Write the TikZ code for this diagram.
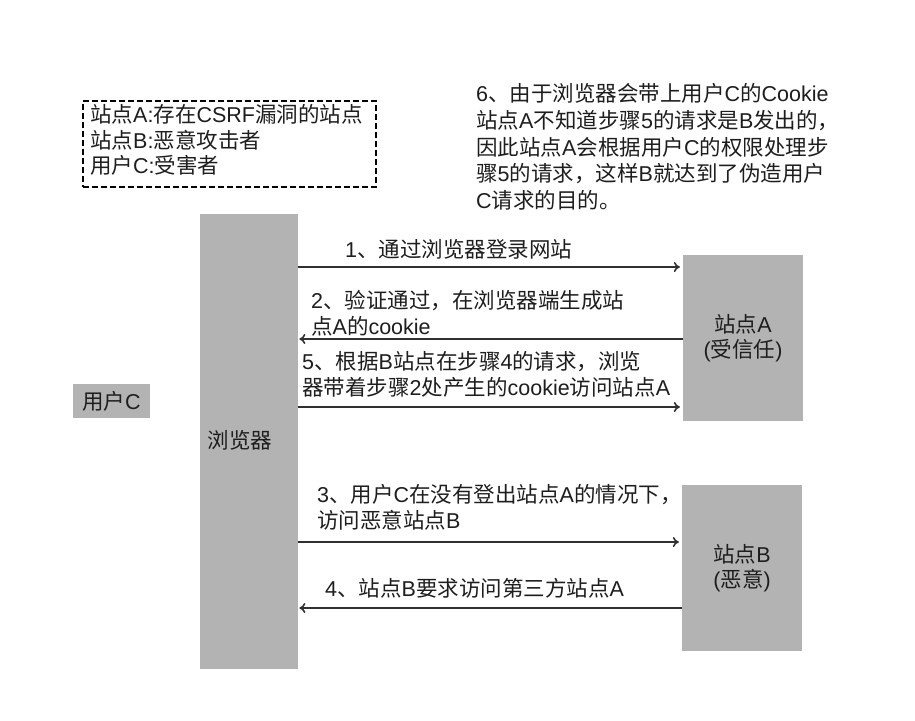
\documentclass[tikz,border=0pt]{standalone}
\usepackage{fontspec}
\setmainfont{Liberation Sans}
\newfontfamily\cjk{Noto Sans CJK SC}
\usetikzlibrary{arrows.meta}
\XeTeXinterchartokenstate=1
\newXeTeXintercharclass\CJKcls
\makeatletter
\count@="3000
\loop\ifnum\count@<"A000 \XeTeXcharclass\count@=\CJKcls \advance\count@ 1 \repeat
\count@="FF00
\loop\ifnum\count@<"FFF0 \XeTeXcharclass\count@=\CJKcls \advance\count@ 1 \repeat
\makeatother
\XeTeXinterchartoks 0 \CJKcls={\begingroup\cjk}
\XeTeXinterchartoks 4095 \CJKcls={\begingroup\cjk}
\XeTeXinterchartoks \CJKcls 0={\endgroup}
\XeTeXinterchartoks \CJKcls 4095={\endgroup}
\definecolor{boxgray}{HTML}{B3B3B3}
\definecolor{txt}{HTML}{1E1E1E}
\definecolor{linec}{HTML}{303030}
\tikzset{
  lbl/.style={inner sep=0pt, anchor=west, align=left, font=\fontsize{21.5}{26}\selectfont, text=txt},
  gbox/.style={fill=boxgray, draw=none, inner sep=0pt, align=center, text=txt, font=\fontsize{21.5}{24.5}\selectfont},
  arr/.style={draw=linec, line width=1.6pt, -{To[length=6pt,width=10pt]}},
}
\begin{document}
\begin{tikzpicture}[x=1pt,y=-1pt]
\useasboundingbox[fill=white] (0,0) rectangle (915,720);
% legend
\node[draw=black, line width=2pt, dash pattern=on 6pt off 3pt, minimum width=293pt, minimum height=86pt, inner sep=0pt, anchor=north west] (legend) at (82,100) {};
\node[lbl, font=\fontsize{21.5}{25.5}\selectfont] (legendtxt) at (90,140) {站点A:存在CSRF漏洞的站点\\站点B:恶意攻击者\\用户C:受害者};
% note 6
\node[lbl, font=\fontsize{21.5}{26.7}\selectfont] (note6) at (476,147) {6、由于浏览器会带上用户C的Cookie\\站点A不知道步骤5的请求是B发出的，\\因此站点A会根据用户C的权限处理步\\骤5的请求，这样B就达到了伪造用户\\C请求的目的。};
% boxes
\node[gbox, minimum width=98pt, minimum height=455pt, anchor=north west] (browser) at (200,214) {};
\node[lbl, anchor=center] (browserlbl) at (240,440) {浏览器};
\node[gbox, minimum width=77pt, minimum height=34pt] (userC) at (111.5,401) {用户C};
\node[gbox, minimum width=120pt, minimum height=166pt] (siteA) at (743,338) {站点A\\(受信任)};
\node[gbox, minimum width=120pt, minimum height=166pt] (siteB) at (742,568) {站点B\\(恶意)};
% levels
\coordinate (y1) at (0,267);
\coordinate (y2) at (0,339);
\coordinate (y5) at (0,407);
\coordinate (y3) at (0,542);
\coordinate (y4) at (0,608);
% arrows
\draw[arr, shorten >=3pt] (browser.east |- y1) -- (siteA.west |- y1);
\draw[arr, shorten >=1pt] (siteA.west |- y2) -- (browser.east |- y2);
\draw[arr, shorten >=3pt] (browser.east |- y5) -- (siteA.west |- y5);
\draw[arr, shorten >=3pt] (browser.east |- y3) -- (siteB.west |- y3);
\draw[arr, shorten >=1pt] (siteB.west |- y4) -- (browser.east |- y4);
% labels
\node[lbl] (l1) at (345,249) {1、通过浏览器登录网站};
\node[lbl] (l2) at (311,313.5) {2、验证通过，在浏览器端生成站\\点A的cookie};
\node[lbl] (l5) at (302,374.5) {5、根据B站点在步骤4的请求，浏览\\器带着步骤2处产生的cookie访问站点A};
\node[lbl] (l3) at (317,507.5) {3、用户C在没有登出站点A的情况下，\\访问恶意站点B};
\node[lbl] (l4) at (325,588) {4、站点B要求访问第三方站点A};
\end{tikzpicture}
\end{document}
